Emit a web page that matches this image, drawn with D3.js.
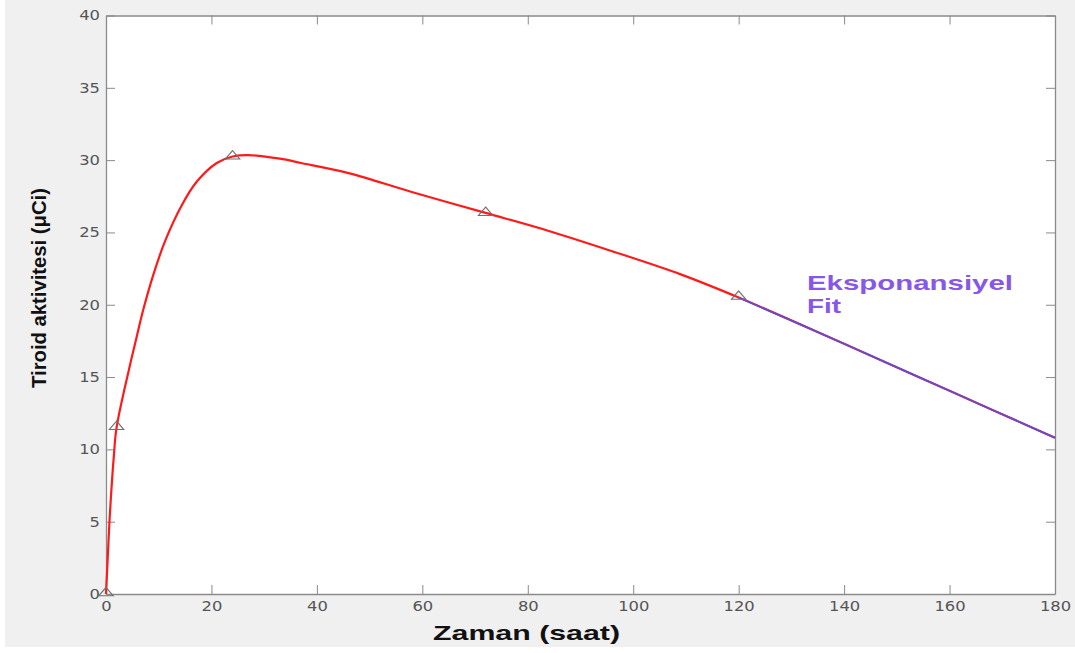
<!DOCTYPE html>
<html>
<head>
<meta charset="utf-8">
<script src="https://cdn.jsdelivr.net/npm/d3@7"></script>
<style>
  body { margin: 0; background: #fff; }
  .tick text { font-family: "DejaVu Sans", sans-serif; font-size: 14px; fill: #555; }
  .axis path, .axis line { stroke: #8a8a8a; }
</style>
</head>
<body>
<div id="chart"></div>
<script>
// measured points (triangles)
var measTime = [0, 2, 24, 72, 120];
var measAct = [0, 11.5, 30.2, 26.3, 20.5];

// fitted curve
var fitTime = [0, 0.25, 0.75, 1.5, 2, 4.4, 5.7, 7.1, 9, 11.2, 14.4, 17.2, 21, 24, 27, 33, 37, 46, 58, 72, 84, 96, 109, 120];
var fitAct = [0, 1.9, 5.6, 9.6, 11.5, 15.6, 17.6, 19.7, 22.1, 24.4, 26.9, 28.5, 29.8, 30.25, 30.35, 30.1, 29.8, 29.1, 27.8, 26.35, 25.1, 23.7, 22.1, 20.5];

// exponential fit tail
var expTime = [120, 140, 160, 180];
var expAct = [20.5, 17.3, 14.05, 10.8];

var xTicks = [0, 20, 40, 60, 80, 100, 120, 140, 160, 180];
var yTicks = [0, 5, 10, 15, 20, 25, 30, 35, 40];

var svgWidth = 1075;
var svgHeight = 653;
var margin = {top: 15.5, right: 20, bottom: 59, left: 106};
var width = 949;
var height = 578.5;

var svg = d3.select("#chart")
    .append("svg")
    .attr("width", svgWidth)
    .attr("height", svgHeight);

// gray figure background
svg.append("rect")
    .attr("x", 5).attr("y", 0)
    .attr("width", 1070).attr("height", 647)
    .attr("fill", "#f0f0f0");

var g = svg.append("g")
    .attr("transform", `translate(${margin.left}, ${margin.top})`);

g.append("rect")
    .attr("width", width).attr("height", height)
    .attr("fill", "#fff");

var x = d3.scaleLinear().domain([0, 180]).range([0, width]);
var y = d3.scaleLinear().domain([0, 40]).range([height, 0]);

function fixLabels(sel) {
    sel.selectAll(".tick text").each(function () {
        this.setAttribute("textLength", this.textContent.length * 10.4);
        this.setAttribute("lengthAdjust", "spacingAndGlyphs");
    });
}

// axes, ticks pointing inward (box style)
g.append("g").attr("class", "axis")
    .attr("transform", `translate(0, ${height})`)
    .call(d3.axisBottom(x).tickValues(xTicks).tickSizeInner(-9).tickSizeOuter(0).tickPadding(7))
    .call(fixLabels);

g.append("g").attr("class", "axis")
    .call(d3.axisLeft(y).tickValues(yTicks).tickSizeInner(-9).tickSizeOuter(0).tickPadding(6))
    .call(fixLabels);

g.append("g").attr("class", "axis")
    .call(d3.axisTop(x).tickValues(xTicks).tickSizeInner(-9).tickSizeOuter(0).tickFormat(""));

g.append("g").attr("class", "axis")
    .attr("transform", `translate(${width}, 0)`)
    .call(d3.axisRight(y).tickValues(yTicks).tickSizeInner(-9).tickSizeOuter(0).tickFormat(""));

g.selectAll(".axis path").attr("stroke-width", 1.3);

// curves
var fitData = fitTime.map((t, i) => [t, fitAct[i]]);
var expData = expTime.map((t, i) => [t, expAct[i]]);

var line = d3.line()
    .x(d => x(d[0]))
    .y(d => y(d[1]))
    .curve(d3.curveCatmullRom.alpha(0.5));

g.append("path")
    .datum(fitData.concat(expData.slice(1)))
    .attr("fill", "none")
    .attr("stroke", "#ff1a1a")
    .attr("stroke-width", 2.2)
    .attr("d", line);

g.append("path")
    .datum(expData)
    .attr("fill", "none")
    .attr("stroke", "#5a4fd6")
    .attr("stroke-width", 1.8)
    .attr("d", line);

// triangle markers
var tri = d3.symbol().type(d3.symbolTriangle).size(50);
g.selectAll(".marker")
    .data(measTime.map((t, i) => [t, measAct[i]]))
    .enter()
    .append("path")
    .attr("class", "marker")
    .attr("d", tri)
    .attr("transform", d => `translate(${x(d[0])}, ${y(d[1]) - 1}) scale(1.35, 0.9)`)
    .attr("fill", "none")
    .attr("stroke", "#707070")
    .attr("stroke-width", 1);

// annotation
var note = svg.append("text")
    .attr("font-family", "Liberation Sans, Arial, sans-serif")
    .attr("font-weight", "bold")
    .attr("font-size", 21)
    .attr("fill", "#8657e8");
note.append("tspan").attr("x", 807).attr("y", 290)
    .attr("textLength", 206).attr("lengthAdjust", "spacingAndGlyphs")
    .text("Eksponansiyel");
note.append("tspan").attr("x", 807).attr("y", 313)
    .attr("textLength", 34).attr("lengthAdjust", "spacingAndGlyphs")
    .text("Fit");

// axis titles
svg.append("text")
    .attr("x", 433).attr("y", 640)
    .attr("font-family", "Liberation Sans, Arial, sans-serif")
    .attr("font-weight", "bold")
    .attr("font-size", 21)
    .attr("textLength", 187).attr("lengthAdjust", "spacingAndGlyphs")
    .attr("fill", "#111")
    .text("Zaman (saat)");

svg.append("text")
    .attr("transform", "translate(46, 288) rotate(-90)")
    .attr("text-anchor", "middle")
    .attr("font-family", "Liberation Sans, Arial, sans-serif")
    .attr("font-weight", "bold")
    .attr("font-size", 20)
    .attr("textLength", 200).attr("lengthAdjust", "spacingAndGlyphs")
    .attr("fill", "#111")
    .text("Tiroid aktivitesi (μCi)");
</script>
</body>
</html>
